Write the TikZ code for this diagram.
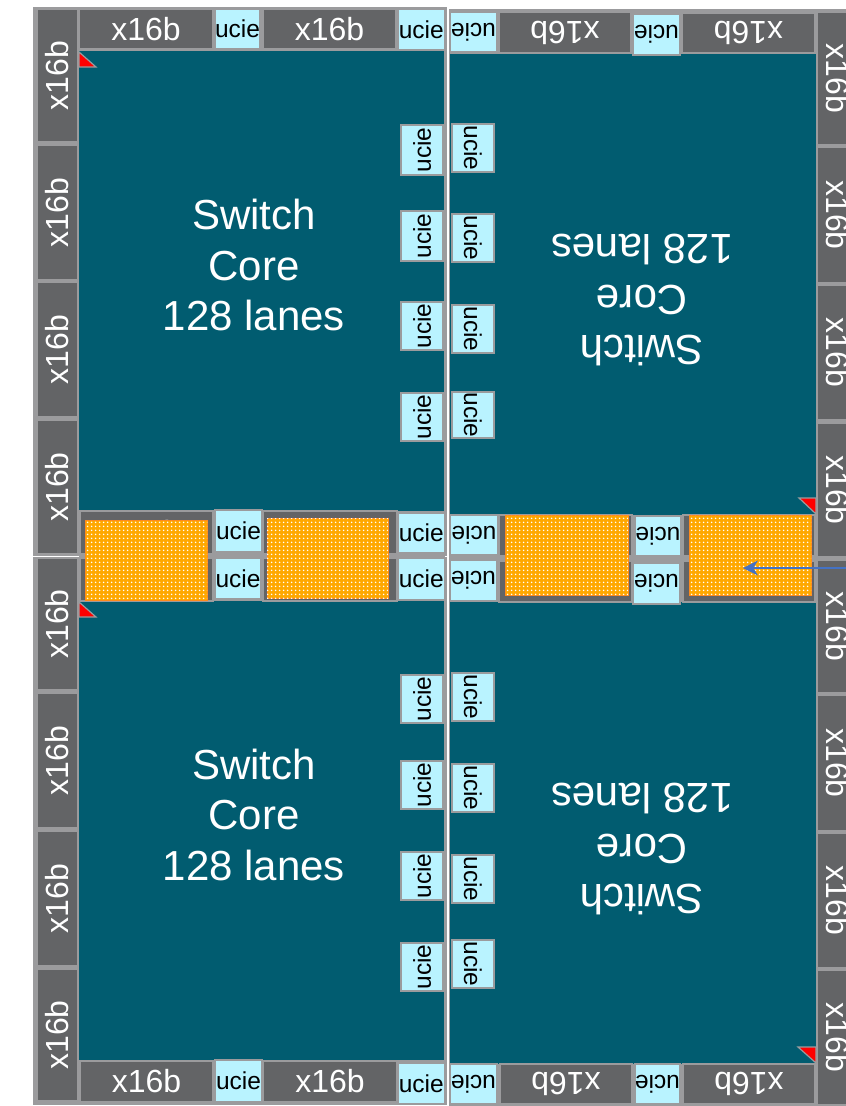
\documentclass[tikz,border=0pt]{standalone}
\usepackage{fontspec}
\setmainfont{Liberation Sans}
\usetikzlibrary{calc,arrows.meta,patterns.meta}
\definecolor{corecol}{HTML}{015C70}
\definecolor{darkbox}{HTML}{636466}
\definecolor{frameline}{HTML}{9B9B9D}
\definecolor{uciecol}{HTML}{B9F3FF}
\definecolor{dotbase}{HTML}{FFA800}
\definecolor{dotedge}{HTML}{FF8A1C}
\definecolor{tipred}{HTML}{FF0000}
\definecolor{arrowblue}{HTML}{4472C4}
\tikzset{
  frameface/.style={fill=frameline,draw=none},
  coreface/.style={fill=corecol,draw=none},
  portface/.style={fill=darkbox,draw=frameline,line width=1.2pt},
  ucieface/.style={fill=uciecol,draw=frameline,line width=1.5pt},
  porttext/.style={text=white,font=\fontsize{32}{32}\selectfont,inner sep=0pt},
  ucietext/.style={text=black,font=\fontsize{24.5}{24.5}\selectfont,inner sep=0pt},
  coretext/.style={text=white,font=\fontsize{42}{50.5}\selectfont,align=center,inner sep=0pt},
  hotface/.style={fill=dotbase,draw=dotedge,line width=1pt,
    postaction={pattern={Dots[distance=4pt,radius=1.05pt]},pattern color=white}},
  tipface/.style={fill=tipred,draw=frameline,line width=1.2pt},
  callout/.style={draw=arrowblue,line width=1.7pt,-{Stealth[length=15pt,width=15pt]}}
}
% name, x1, y1, x2, y2, rotation
\newcommand{\portbox}[6]{%
  \draw[portface] (#2,#3) rectangle (#4,#5);
  \node[porttext,rotate=#6] (#1) at ($(#2,#3)!.5!(#4,#5)$) {x16b\hspace{3pt}};}
\newcommand{\uciebox}[6]{%
  \draw[ucieface] (#2,#3) rectangle (#4,#5);
  \node[ucietext,rotate=#6] (#1) at ($(#2,#3)!.5!(#4,#5)$) {ucie\hspace{3pt}};}
\newcommand{\hotbox}[4]{\draw[hotface] (#1,#2) rectangle (#3,#4);}
\begin{document}
\begin{tikzpicture}[x=1pt,y=-1pt]
\useasboundingbox (0,0) rectangle (846,1106);
\clip (0,0) rectangle (846,1106);
% die frames
\fill[frameface] (33,7) rectangle (447.3,556);
\fill[frameface] (33,557) rectangle (447.3,1105);
\fill[frameface] (79,554) rectangle (445,559);
\fill[frameface] (448.7,9) rectangle (846,1106);
% cores
\fill[coreface] (79,51) rectangle (444,511);
\fill[coreface] (79,601) rectangle (444,1060);
\fill[coreface] (450,54) rectangle (816,515);
\fill[coreface] (450,602) rectangle (816,1064);
% core labels
\node[coretext] (corea) at (254,265) {Switch\\Core\\128 lanes};
\node[coretext] (coreb) at (254,814.5) {Switch\\Core\\128 lanes};
\node[coretext,rotate=180] (corec) at (642,300.5) {Switch\\Core\\128 lanes};
\node[coretext,rotate=180] (cored) at (642,849.5) {Switch\\Core\\128 lanes};
% left columns
\portbox{la1}{37}{9}{78}{142}{90}
\portbox{la2}{37}{145}{78}{280}{90}
\portbox{la3}{37}{282}{78}{417}{90}
\portbox{la4}{37}{420}{78}{554}{90}
\portbox{lb1}{37}{558}{78}{690}{90}
\portbox{lb2}{37}{693}{78}{828}{90}
\portbox{lb3}{37}{831}{78}{966}{90}
\portbox{lb4}{37}{969}{78}{1101}{90}
% right columns
\portbox{ra1}{817}{12}{858}{145}{-90}
\portbox{ra2}{817}{147}{858}{283}{-90}
\portbox{ra3}{817}{285}{858}{420}{-90}
\portbox{ra4}{817}{423}{858}{557}{-90}
\portbox{rb1}{817}{560}{858}{693}{-90}
\portbox{rb2}{817}{695}{858}{831}{-90}
\portbox{rb3}{817}{833}{858}{968}{-90}
\portbox{rb4}{817}{970}{858}{1105}{-90}
% top and bottom rows, left
\portbox{ta1}{79}{9}{213}{49}{0}
\uciebox{ta2}{215}{9}{260}{49}{0}
\portbox{ta3}{263}{9}{396}{49}{0}
\uciebox{ta4}{398}{9}{444.5}{50}{0}
\portbox{tb1}{80}{1061}{213}{1102}{0}
\uciebox{tb2}{215}{1060}{262}{1102}{0}
\portbox{tb3}{263}{1061}{397}{1102}{0}
\uciebox{tb4}{398}{1063}{444.5}{1104}{0}
% top and bottom rows, right
\uciebox{tc1}{450}{12}{497}{52}{180}
\portbox{tc2}{499}{12}{631}{53}{180}
\uciebox{tc3}{633}{14}{680}{55}{180}
\portbox{tc4}{682}{13}{815}{53}{180}
\uciebox{td1}{450}{1064}{497}{1104}{180}
\portbox{td2}{500}{1064}{632}{1104}{180}
\uciebox{td3}{635}{1064}{680}{1104}{180}
\portbox{td4}{683}{1064}{815}{1104}{180}
% middle band, left
\portbox{ma1}{80}{511}{213}{554}{0}
\draw[portface] (263,511) rectangle (397,554);
\draw[portface] (80,558) rectangle (213,601);
\draw[portface] (263,558) rectangle (397,601);
\uciebox{ma2}{215}{510}{262}{552}{0}
\uciebox{ma3}{215}{558}{261}{599}{0}
\uciebox{ma4}{398}{513}{444.5}{553}{0}
\uciebox{ma5}{398}{558}{444.5}{600}{0}
% middle band, right
\draw[portface] (499,515) rectangle (632,556);
\draw[portface] (683,515) rectangle (815,556);
\draw[portface] (499,561) rectangle (632,602);
\draw[portface] (683,561) rectangle (815,602);
\uciebox{mb1}{450}{515}{498}{555}{180}
\uciebox{mb2}{450}{560}{497}{601}{180}
\uciebox{mb3}{635}{516}{681}{556}{180}
\uciebox{mb4}{633}{563}{680}{604}{180}
% inner ucie columns
\uciebox{ca1}{401}{125}{443}{175}{90}
\uciebox{ca2}{401}{211}{443}{261}{90}
\uciebox{ca3}{401}{302}{443}{350}{90}
\uciebox{ca4}{401}{393}{443}{441}{90}
\uciebox{cb1}{401}{675}{443}{723}{90}
\uciebox{cb2}{401}{761}{443}{809}{90}
\uciebox{cb3}{401}{852}{443}{900}{90}
\uciebox{cb4}{401}{943}{443}{991}{90}
\uciebox{cc1}{452}{124}{494}{172}{-90}
\uciebox{cc2}{452}{214}{494}{262}{-90}
\uciebox{cc3}{452}{305}{494}{353}{-90}
\uciebox{cc4}{452}{392}{494}{438}{-90}
\uciebox{cd1}{452}{673}{494}{721}{-90}
\uciebox{cd2}{452}{764}{494}{812}{-90}
\uciebox{cd3}{452}{855}{494}{903}{-90}
\uciebox{cd4}{452}{940}{494}{988}{-90}
% hot regions
\hotbox{85}{520}{207}{600}
\hotbox{267}{518}{388}{598}
\hotbox{505}{515}{628}{595}
\hotbox{689}{515}{811}{595}
% corner markers
\draw[tipface] (79,52) -- (96,67) -- (79,67) -- cycle;
\draw[tipface] (79,602) -- (96,617) -- (79,617) -- cycle;
\draw[tipface] (799,498) -- (816,498) -- (816,514) -- cycle;
\draw[tipface] (798,1047) -- (816,1047) -- (816,1063) -- cycle;
% callout
\coordinate (calloutstart) at (846,568);
\coordinate (callouttip) at (743,568);
\draw[callout] (calloutstart) -- (callouttip);
\end{tikzpicture}
\end{document}
